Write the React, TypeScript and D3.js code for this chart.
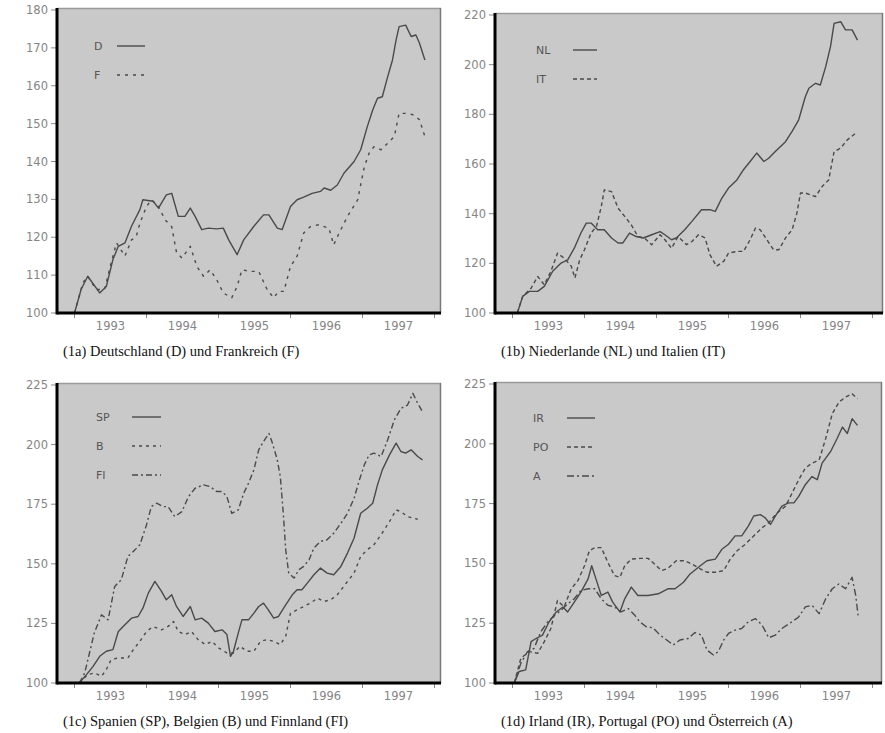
import React from "react";
import * as d3 from "d3";

// Index values (start = 100), time in months since January 1993
type Pt = [number, number];

const yearLabels = ["1993", "1994", "1995", "1996", "1997"];

const seriesD: Pt[] = [[0,100],[1.1,106.2],[2.2,109.7],[4.2,105.3],[5.3,107],[6.4,114.1],[7.3,117.6],[8.4,118.5],[9.5,122.9],[10.9,127.3],[11.4,129.9],[13.1,129.5],[14,127.7],[15.3,131.2],[16.2,131.6],[17.3,125.5],[18.4,125.5],[19.3,127.7],[20.1,125.5],[21.2,122],[22.3,122.4],[23.7,122.2],[24.8,122.4],[25.7,119.3],[27.1,115.4],[28.2,119.3],[29.9,122.9],[31.5,125.9],[32.4,125.9],[33.8,122.4],[34.6,122],[36,128.1],[37.1,129.9],[38.2,130.6],[39.6,131.6],[41,132.1],[41.6,133],[42.7,132.4],[43.8,133.8],[44.9,136.9],[46.6,140],[47.7,143.1],[48.8,149.2],[49.7,153.6],[50.5,156.7],[51.3,157.1],[52.2,162.4],[53,166.8],[53.6,172.1],[54.1,175.6],[55.2,176],[56.1,173],[56.9,173.4],[57.5,171.2],[58.4,166.8]];

const seriesF: Pt[] = [[0,100],[1.4,108],[2.2,109.7],[3.6,106.2],[5,106.2],[6.1,113.2],[7,118.5],[8.4,115],[9.5,119.3],[10.3,120.2],[10.9,123.7],[12,128.1],[12.8,129.9],[14,128.1],[15.1,124.6],[16.2,122.8],[17,116],[17.9,114.5],[19.3,117.6],[20.4,112.3],[21.5,109.7],[22.6,111.4],[23.7,108.8],[24.8,105.3],[26.2,104],[27.1,107],[27.9,111.4],[29.3,111],[30.7,111],[32.1,106.2],[33.2,104],[34,105.7],[34.9,105.7],[36,112.3],[37.1,115],[38.2,121.1],[39.3,122.8],[40.7,123.3],[42.4,122.4],[43.2,118],[44.1,121.1],[45.5,125.5],[47.2,129.9],[48.3,138.6],[49.1,142.2],[49.9,143.9],[51.1,143.1],[52.2,144.8],[53.3,146.6],[54.1,152.7],[55.2,152.7],[56.6,152.3],[57.5,151],[58.4,146.6]];

const seriesNL: Pt[] = [[0.8,100],[1.7,106.7],[2.8,108.7],[4.2,108.7],[5.3,110.7],[6.7,116.8],[8.1,120.1],[9.2,121.4],[10.3,126.1],[11.4,132.2],[12.3,136.2],[13.1,136.2],[14.2,133.5],[15.3,133.5],[16.5,130.2],[17.6,128.2],[18.4,128.2],[19.5,132.2],[20.6,130.8],[21.8,130.2],[23.2,131.5],[24.6,132.8],[25.4,131.5],[26.5,129.5],[27.3,130.2],[28.7,133.5],[29.9,136.9],[31.5,141.6],[32.9,141.6],[33.8,140.9],[34.9,146.3],[36,150.3],[37.4,153.6],[38.5,157.7],[39.6,161],[40.7,164.4],[41.9,161],[42.7,162.3],[43.8,165],[45.5,169],[46.6,173.1],[47.7,177.8],[48.8,187.1],[49.4,190.5],[50.5,192.5],[51.3,191.8],[52.2,199.2],[53,207.3],[53.6,216.6],[54.7,217.3],[55.5,214],[56.6,214],[57.5,209.9]];

const seriesIT: Pt[] = [[0.8,100],[1.7,106.7],[3.1,110],[4.2,114.7],[5.3,111.4],[6.4,116.8],[7.5,124.1],[8.6,122.1],[9.8,118.8],[10.4,114.1],[11.2,121.4],[12,125.5],[13.1,132.2],[14,134.9],[14.8,142.9],[15.3,149.6],[16.5,148.9],[17.6,142.2],[18.7,138.9],[19.8,135.5],[20.9,130.8],[22,130.2],[23.2,127.5],[24.6,131.5],[25.4,129.5],[26.5,126.1],[27.6,130.8],[29,127.5],[29.9,128.8],[31,131.5],[32.1,130.2],[32.9,123.5],[34,118.8],[35.2,120.8],[36,124.1],[37.4,124.8],[38.5,124.8],[39.6,129.5],[40.5,134.2],[41.3,133.5],[42.4,129.5],[43.5,125.5],[44.4,125.5],[45.5,130.2],[46.6,133.5],[47.4,140.2],[48,148.3],[48.8,148.3],[50.5,146.9],[51.6,150.9],[52.7,153.6],[53.6,165],[54.7,166.4],[55.8,169.7],[57.2,172.4]];

const seriesSP: Pt[] = [[0.8,100],[2,103.5],[3.1,107],[4.2,111.2],[5.3,113.3],[6.4,114],[7.3,121.6],[8.4,124.4],[9.5,127.2],[10.6,127.9],[11.4,131.4],[12.3,137.7],[13.4,142.6],[14.5,138.4],[15.3,134.9],[16.2,137],[17,132.1],[18.1,127.9],[19.3,132.1],[20.1,126.5],[21.2,127.2],[22.3,125.1],[23.4,121.6],[24.6,122.3],[25.4,120.3],[26,111.2],[26.5,113.3],[27.3,121],[27.9,126.5],[29,126.5],[29.9,129.3],[30.7,132.1],[31.5,133.5],[32.1,131.4],[33.2,127.2],[34,127.9],[35.2,132.8],[36.3,137],[37.1,139.1],[37.9,139.1],[38.8,141.9],[39.9,145.4],[41,148.2],[42.1,146.1],[43.2,145.4],[44.4,148.9],[45.5,154.5],[46.6,160.8],[47.7,171.2],[48.8,173.3],[49.7,175.4],[50.5,183.1],[51.3,189.4],[52.5,195.7],[53.6,200.6],[54.4,197.1],[55.2,196.4],[56.1,197.8],[57.2,195],[58,193.6]];

const seriesB: Pt[] = [[0.8,100],[2.2,103.5],[3.3,104.2],[4.5,102.8],[5.3,105.6],[6.1,109.8],[7.3,110.5],[8.9,110.5],[9.8,114],[10.9,117.5],[12,121.6],[13.1,123.7],[14.5,122.3],[15.6,123.7],[16.5,125.8],[17.3,121.6],[18.4,120.3],[19.5,121.6],[20.6,118.2],[21.8,116.1],[22.9,117.5],[24,114.7],[25.4,112.6],[26.5,112.6],[27.6,115.4],[28.7,113.3],[29.9,113.3],[31,117.5],[32.1,118.2],[33.2,117.5],[34.3,116.1],[35.2,119.6],[36,129.3],[37.1,130.7],[38.2,132.1],[39.3,133.5],[40.5,135.6],[41.6,134.2],[42.7,134.9],[43.8,137],[45.5,142.6],[46.6,146.1],[47.7,153.1],[48.8,155.9],[49.9,158],[51.1,162.2],[52.5,167.7],[53.6,172.6],[54.4,171.9],[55.5,169.8],[57.2,168.7]];

const seriesFI: Pt[] = [[0.8,100],[1.7,104.2],[2.5,112.6],[3.3,121],[4.5,128.6],[5.6,126.5],[6.7,140.5],[7.8,143.3],[8.9,153.1],[9.8,155.2],[10.9,158],[12,166.3],[12.8,174],[13.7,175.4],[14.8,174],[15.6,174],[16.7,169.8],[17.9,171.9],[19,178.2],[20.1,181.7],[21.5,183.1],[22.6,182.4],[23.7,180.3],[24.6,180.3],[25.4,178.2],[26.2,171.2],[27.3,172.6],[28.2,179.6],[29,183.8],[29.9,189.4],[30.7,197.8],[31.5,201.3],[32.4,204.7],[32.9,201.3],[33.8,193.6],[34.3,186.6],[34.8,171.2],[35.2,155.9],[35.7,146.1],[36.6,144],[37.4,147.5],[38.2,148.9],[39.1,151.7],[39.9,156.6],[41,159.4],[42.1,160.1],[43.2,162.8],[44.4,167],[45.5,171.2],[46.6,177.5],[47.4,184.5],[48.3,191.5],[49.1,195.7],[49.9,196.4],[51.1,195],[52.2,202],[53.3,210.3],[54.4,215.2],[55.5,216.6],[56.4,221.5],[57.2,217.3],[58,213.8]];

const seriesIR: Pt[] = [[0.3,100],[1.1,104.8],[2.2,105.5],[3.1,117.3],[3.9,118.6],[5,120],[6.1,125.6],[7.3,129.7],[8.4,131.8],[9.2,129.7],[10.3,133.8],[11.4,138],[12.6,143.5],[13.2,149],[14,142.8],[14.8,136.6],[15.9,138],[16.7,133.8],[17.9,129.7],[18.7,135.2],[19.8,140.1],[20.9,136.6],[22.6,136.6],[24.3,137.3],[25.9,139.4],[27.1,139.4],[28.5,142.1],[29.6,145.6],[31.3,149],[32.4,151.1],[33.8,151.8],[34.9,155.9],[36,158],[37.1,161.5],[38.2,161.5],[39.3,165.6],[40.2,169.8],[41.3,170.4],[42.1,169.1],[43,166.3],[43.8,169.8],[44.9,173.9],[46,175.3],[46.9,175.3],[47.7,178],[48.8,182.9],[49.9,186.3],[50.8,185],[51.6,191.9],[53,196.7],[54.1,202.2],[55,207],[55.8,204.3],[56.6,210.5],[57.5,207.7]];

const seriesPO: Pt[] = [[0.3,100],[1.4,110.4],[2.8,113.1],[4.2,112.4],[5.3,117.3],[6.4,122.8],[7.5,134.5],[8.6,131.8],[9.8,139.4],[10.9,142.8],[12,149],[12.8,155.2],[13.7,156.6],[14.8,156.6],[15.9,150.4],[17,144.9],[17.9,144.2],[18.7,149],[19.8,151.8],[21.2,152.1],[22.6,152.1],[24,149],[24.8,147],[25.9,147.9],[27.3,151.1],[28.7,151.1],[29.9,149.7],[31.3,147.7],[32.4,146.3],[34,146.3],[35.2,147],[36.3,151.8],[37.4,155.2],[38.8,158],[40.2,161.5],[41.6,164.9],[42.7,167],[44.1,171.1],[45.5,173.9],[46.6,179.4],[47.7,185],[48.8,189.8],[49.9,191.9],[51.1,193.2],[52.2,202.2],[53.3,212.6],[54.4,217.4],[55.5,219.5],[56.6,220.9],[57.5,218.8]];

const seriesA: Pt[] = [[0.3,100],[1.4,108.3],[2.5,113.1],[3.6,114.5],[4.7,121.4],[5.9,125.6],[7,128.3],[8.1,130.4],[9.2,133.1],[10.3,135.2],[11.4,138.7],[12.6,139.4],[13.7,139.4],[14.8,135.2],[15.9,132.5],[17,131.8],[18.1,129.7],[19.3,131.1],[20.4,128.3],[21.2,125.6],[22.3,123.5],[23.4,123.1],[24.6,120],[25.7,118],[26.8,115.9],[27.9,118],[29.3,118.6],[30.4,121.1],[31.5,120],[32.4,113.8],[33.5,111.7],[34.3,113.1],[35.2,118],[36,120.7],[37.1,122.1],[38.2,122.8],[39.3,125.6],[40.5,126.9],[41.6,124.2],[42.7,118.9],[43.8,120],[44.9,122.8],[46.6,125.6],[47.7,127.6],[48.8,131.8],[49.9,132.5],[51.1,129],[52.2,135.2],[53.3,139.4],[54.4,141.4],[55.5,139.4],[56.6,144.2],[57.2,136.6],[57.6,128.3]];

type Series = { label: string; data: Pt[]; dash: string | null };

type Panel = {
  caption: string;
  left: number; top: number; right: number; bottom: number;
  yMax: number; yStep: number;
  legendX: number; lineX0: number; lineX1: number; rowY: number;
  series: Series[];
};

const panels: Panel[] = [
  {
    caption: "(1a) Deutschland (D) und Frankreich (F)",
    left: 57, top: 10, right: 441, bottom: 313, yMax: 180, yStep: 10,
    legendX: 94, lineX0: 117, lineX1: 145, rowY: 46,
    series: [
      { label: "D", data: seriesD, dash: null },
      { label: "F", data: seriesF, dash: "3,5" },
    ],
  },
  {
    caption: "(1b) Niederlande (NL) und Italien (IT)",
    left: 495, top: 15, right: 883, bottom: 313, yMax: 220, yStep: 20,
    legendX: 536, lineX0: 573, lineX1: 597, rowY: 50,
    series: [
      { label: "NL", data: seriesNL, dash: null },
      { label: "IT", data: seriesIT, dash: "4,3" },
    ],
  },
  {
    caption: "(1c) Spanien (SP), Belgien (B) und Finnland (FI)",
    left: 57, top: 385, right: 441, bottom: 683, yMax: 225, yStep: 25,
    legendX: 96, lineX0: 132, lineX1: 161, rowY: 417,
    series: [
      { label: "SP", data: seriesSP, dash: null },
      { label: "B", data: seriesB, dash: "3,4" },
      { label: "FI", data: seriesFI, dash: "6,3,2,3" },
    ],
  },
  {
    caption: "(1d) Irland (IR), Portugal (PO) und Österreich (A)",
    left: 495, top: 384, right: 882, bottom: 683, yMax: 225, yStep: 25,
    legendX: 533, lineX0: 567, lineX1: 595, rowY: 418,
    series: [
      { label: "IR", data: seriesIR, dash: null },
      { label: "PO", data: seriesPO, dash: "4,3" },
      { label: "A", data: seriesA, dash: "7,3,2,3" },
    ],
  },
];

const LINE = "#4a4a4a";
const TICK_TEXT = "#858585";

function ChartPanel({ p }: { p: Panel }) {
  // 1993 starts 17.5px right of the value axis, one year = 72px
  const x = d3
    .scaleLinear()
    .domain([0, 12])
    .range([p.left + 17.5, p.left + 17.5 + 72]);
  const y = d3.scaleLinear().domain([100, p.yMax]).range([p.bottom, p.top]);
  const yTicks = d3.range(100, p.yMax + 0.01, p.yStep);
  const line = d3
    .line<Pt>()
    .x((d) => x(d[0]))
    .y((d) => y(d[1]));
  const yearTicks = d3.range(0, 61, 12);
  return (
    <g>
      <rect
        x={p.left}
        y={p.top - 2}
        width={p.right - p.left}
        height={p.bottom - p.top + 2}
        fill="#c9c9c9"
      />
      <line x1={p.left} x2={p.right} y1={p.top - 1.5} y2={p.top - 1.5} stroke="#9a9a9a" strokeWidth={1.5} />
      <line x1={p.right - 0.5} x2={p.right - 0.5} y1={p.top - 2} y2={p.bottom} stroke="#7a7a7a" strokeWidth={1.5} />
      {yTicks.map((v) => (
        <g key={v}>
          <line x1={p.left - 6} x2={p.left} y1={y(v)} y2={y(v)} stroke="#8a8a8a" strokeWidth={1} />
          <text
            x={p.left - 9}
            y={y(v)}
            dy="0.35em"
            textAnchor="end"
            fontFamily="DejaVu Sans"
            fontSize={11.5}
            fill={TICK_TEXT}
          >
            {v}
          </text>
        </g>
      ))}
      {yearTicks.map((m) => (
        <line key={m} x1={x(m)} x2={x(m)} y1={p.bottom} y2={p.bottom + 5} stroke="#8a8a8a" strokeWidth={1} />
      ))}
      {yearLabels.map((lab, i) => (
        <text
          key={lab}
          x={x(i * 12 + 6)}
          y={p.bottom + 17}
          textAnchor="middle"
          fontFamily="DejaVu Sans"
          fontSize={11.5}
          fill={TICK_TEXT}
        >
          {lab}
        </text>
      ))}
      {p.series.map((s) => (
        <path
          key={s.label}
          d={line(s.data) || ""}
          fill="none"
          stroke={LINE}
          strokeWidth={1.4}
          strokeDasharray={s.dash || undefined}
          strokeLinejoin="round"
        />
      ))}
      {p.series.map((s, i) => (
        <g key={"leg" + s.label}>
          <text
            x={p.legendX}
            y={p.rowY + i * 29}
            dy="0.35em"
            fontFamily="DejaVu Sans"
            fontSize={11}
            fill="#555"
          >
            {s.label}
          </text>
          <line
            x1={p.lineX0}
            x2={p.lineX1}
            y1={p.rowY + i * 29}
            y2={p.rowY + i * 29}
            stroke={LINE}
            strokeWidth={1.4}
            strokeDasharray={s.dash || undefined}
          />
        </g>
      ))}
      <line x1={p.left} x2={p.right} y1={p.bottom} y2={p.bottom} stroke="#000" strokeWidth={3} />
      <line x1={p.left} x2={p.left} y1={p.top - 2} y2={p.bottom + 1.5} stroke="#000" strokeWidth={3} />
      <text
        x={p.left + 6}
        y={p.bottom + 43}
        fontFamily="Liberation Serif"
        fontSize={14.5}
        fill="#111"
      >
        {p.caption}
      </text>
    </g>
  );
}

export default function App() {
  return (
    <svg
      width={885}
      height={733}
      style={{ position: "absolute", left: 0, top: 0, background: "#fff" }}
    >
      <rect width={885} height={733} fill="#fff" />
      {panels.map((p) => (
        <ChartPanel key={p.caption} p={p} />
      ))}
    </svg>
  );
}
